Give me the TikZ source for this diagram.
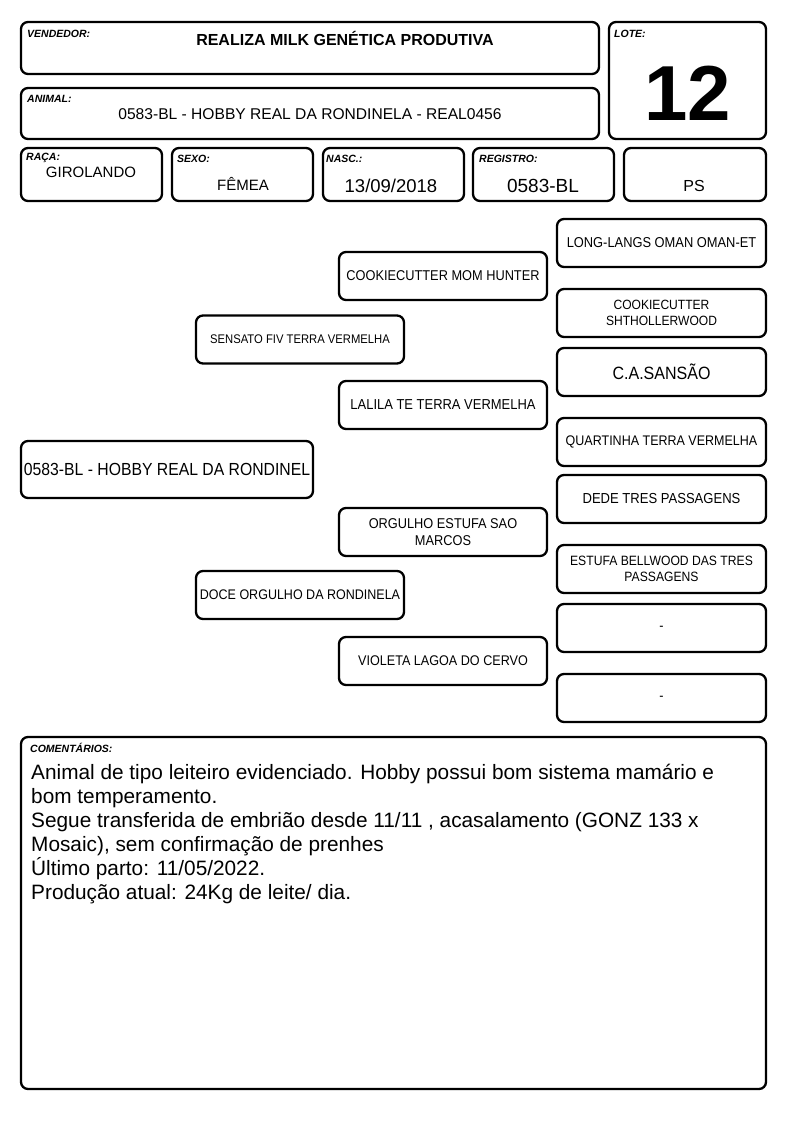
\documentclass[tikz,border=0pt]{standalone}
\usepackage{fontspec}
\setmainfont{Liberation Sans}
\newfontfamily\narrowfont[FakeStretch=0.9]{Liberation Sans}
\begin{document}
\begin{tikzpicture}[x=1pt,y=-1pt,
  box/.style={draw=black, line width=2.3pt, rounded corners=7pt, fill=white, inner sep=1pt, align=center},
  lbl/.style={anchor=north west, inner sep=0pt, font=\fontsize{10.5}{11}\selectfont\bfseries\itshape},
  ped/.style={box, minimum width=208pt, minimum height=48pt, font=\narrowfont\fontsize{14}{16.5}\selectfont}
]
\useasboundingbox (0,0) rectangle (794,1123);
% header
\node[box, minimum width=578pt, minimum height=52pt] (vend) at (310,48) {};
\node[lbl] (vendl) at (27,30) {VENDEDOR:};
\node[inner sep=0pt, font=\fontsize{16}{18}\selectfont\bfseries] (vendt) at (345,38) {REALIZA MILK GENÉTICA PRODUTIVA};
\node[box, minimum width=157pt, minimum height=117pt] (lote) at (687.5,80.5) {};
\node[lbl] (lotel) at (614,30) {LOTE:};
\node[inner sep=0pt, font=\fontsize{78}{80}\selectfont\bfseries] (lotet) at (688,93) {12};
\node[box, minimum width=578pt, minimum height=51pt] (anim) at (310,113.5) {};
\node[lbl] (animl) at (27,95) {ANIMAL:};
\node[inner sep=0pt, font=\fontsize{15.6}{18}\selectfont] (animt) at (310,114) {0583-BL - HOBBY REAL DA RONDINELA - REAL0456};
% row of fields
\node[box, minimum width=141pt, minimum height=53pt] (raca) at (91.5,174.5) {};
\node[lbl] (racal) at (26,153) {RAÇA:};
\node[inner sep=0pt, font=\fontsize{15}{18}\selectfont] (racat) at (91,172) {GIROLANDO};
\node[box, minimum width=141pt, minimum height=53pt] (sexo) at (242.5,174.5) {};
\node[lbl] (sexol) at (177,155) {SEXO:};
\node[inner sep=0pt, font=\fontsize{15}{18}\selectfont] (sexot) at (243,184) {FÊMEA};
\node[box, minimum width=141pt, minimum height=53pt] (nasc) at (393.5,174.5) {};
\node[lbl] (nascl) at (326,155) {NASC.:};
\node[inner sep=0pt, font=\fontsize{18.5}{20}\selectfont] (nasct) at (391,186) {13/09/2018};
\node[box, minimum width=141pt, minimum height=53pt] (regi) at (543.5,174.5) {};
\node[lbl] (regil) at (479,155) {REGISTRO:};
\node[inner sep=0pt, font=\fontsize{19}{20}\selectfont] (regit) at (543,186) {0583-BL};
\node[box, minimum width=142pt, minimum height=53pt] (ps) at (695,174.5) {};
\node[inner sep=0pt, font=\fontsize{16}{18}\selectfont] (pst) at (694,186) {PS};
% pedigree
\node[box, minimum width=292pt, minimum height=57pt, font=\narrowfont\fontsize{17.5}{19}\selectfont] (p0) at (167,469.5) {0583-BL - HOBBY REAL DA RONDINEL};
\node[ped, font=\narrowfont\fontsize{12.5}{15}\selectfont] (p1) at (300,339.5) {SENSATO FIV TERRA VERMELHA};
\node[ped, font=\narrowfont\fontsize{13.9}{16}\selectfont] (p2) at (300,595) {DOCE ORGULHO DA RONDINELA};
\node[ped, font=\narrowfont\fontsize{14.2}{17}\selectfont] (p3) at (443,276) {COOKIECUTTER MOM HUNTER};
\node[ped, font=\narrowfont\fontsize{14.4}{17}\selectfont] (p4) at (443,405) {LALILA TE TERRA VERMELHA};
\node[ped, font=\narrowfont\fontsize{14.2}{16.5}\selectfont] (p5) at (443,532) {ORGULHO ESTUFA SAO\\MARCOS};
\node[ped] (p6) at (443,661) {VIOLETA LAGOA DO CERVO};
\node[ped, minimum width=209pt, font=\narrowfont\fontsize{14.3}{17}\selectfont] (g1) at (661.5,243) {LONG-LANGS OMAN OMAN-ET};
\node[ped, minimum width=209pt, font=\narrowfont\fontsize{13.4}{15.5}\selectfont] (g2) at (661.5,313) {COOKIECUTTER\\SHTHOLLERWOOD};
\node[ped, minimum width=209pt, font=\narrowfont\fontsize{17.8}{19}\selectfont] (g3) at (661.5,372) {C.A.SANSÃO};
\node[ped, minimum width=209pt, font=\narrowfont\fontsize{13.9}{16}\selectfont] (g4) at (661.5,442) {QUARTINHA TERRA VERMELHA};
\node[ped, minimum width=209pt, font=\narrowfont\fontsize{14.5}{17}\selectfont] (g5) at (661.5,499) {DEDE TRES PASSAGENS};
\node[ped, minimum width=209pt, font=\narrowfont\fontsize{13.5}{15.5}\selectfont] (g6) at (661.5,569) {ESTUFA BELLWOOD DAS TRES\\PASSAGENS};
\node[ped, minimum width=209pt] (g7) at (661.5,628) {-};
\node[ped, minimum width=209pt] (g8) at (661.5,698) {-};
% comments
\node[box, minimum width=745pt, minimum height=352pt] (com) at (393.5,913) {};
\node[lbl] (coml) at (30,743) {COMENTÁRIOS:};
\node[anchor=north west, inner sep=0pt, align=left, font=\fontsize{20.8}{24}\selectfont] (comt) at (31,764) {Animal de tipo leiteiro evidenciado. Hobby possui bom sistema mamário e\\bom temperamento.\\Segue transferida de embrião desde 11/11 , acasalamento (GONZ 133 x\\Mosaic), sem confirmação de prenhes\\Último parto: 11/05/2022.\\Produção atual: 24Kg de leite/ dia.};
\end{tikzpicture}
\end{document}
